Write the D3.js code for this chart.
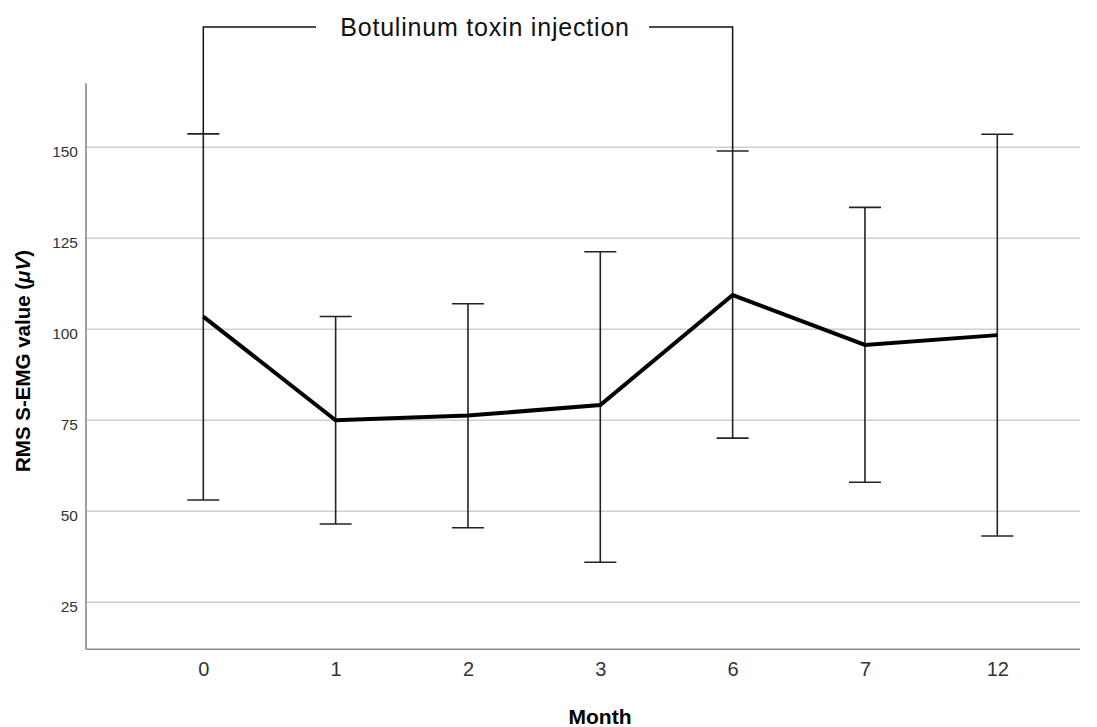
<!DOCTYPE html>
<html>
<head>
<meta charset="utf-8">
<script src="https://cdn.jsdelivr.net/npm/d3@7"></script>
<style>
  body { margin: 0; background: #fff; }
  svg { font-family: "Liberation Sans", Arial, sans-serif; }
</style>
</head>
<body>
<svg width="1097" height="727"></svg>
<script>
// month categories and values
var months = ["0", "1", "2", "3", "6", "7", "12"];
var meanValues = [103.5, 75.0, 76.3, 79.2, 109.4, 95.7, 98.4];
var upperValues = [153.7, 103.5, 107.0, 121.3, 149.0, 133.5, 153.6];
var lowerValues = [53.1, 46.5, 45.5, 36.0, 70.1, 58.0, 43.2];
var yTicks = [25, 50, 75, 100, 125, 150];
var injectionMonths = ["0", "6"];

var svg = d3.select("svg");

var x = d3.scalePoint()
  .domain(months)
  .range([203.3, 997.3]);

var y = d3.scaleLinear()
  .domain([0, 150])
  .range([693.3, 147.3]);

var axisLeft = 86, axisRight = 1080;
var yMin = 12.1, yMax = 167.6;

// gridlines
svg.append("g")
  .selectAll("line")
  .data(yTicks)
  .enter()
  .append("line")
  .attr("x1", axisLeft)
  .attr("x2", axisRight)
  .attr("y1", function(d) { return y(d); })
  .attr("y2", function(d) { return y(d); })
  .attr("stroke", "#cfcfcf")
  .attr("stroke-width", 1.6);

// y axis
var yAxis = svg.append("g")
  .attr("transform", "translate(" + axisLeft + ",0)")
  .call(d3.axisLeft(y).tickValues(yTicks).tickSize(0).tickPadding(8));
yAxis.select(".domain").remove();
yAxis.selectAll("text")
  .attr("font-size", 15.5)
  .attr("dy", "0.6em")
  .attr("fill", "#333")
  .attr("font-family", "Liberation Sans, Arial, sans-serif");

svg.append("line")
  .attr("x1", axisLeft).attr("x2", axisLeft)
  .attr("y1", y(yMin)).attr("y2", y(yMax))
  .attr("stroke", "#888").attr("stroke-width", 1.6);

// x axis
var xAxis = svg.append("g")
  .attr("transform", "translate(0," + y(yMin) + ")")
  .call(d3.axisBottom(x).tickSize(0).tickPadding(13));
xAxis.select(".domain").remove();
xAxis.selectAll("text")
  .attr("font-size", 20)
  .attr("fill", "#333")
  .attr("font-family", "Liberation Sans, Arial, sans-serif");

svg.append("line")
  .attr("x1", axisLeft).attr("x2", axisRight)
  .attr("y1", y(yMin)).attr("y2", y(yMin))
  .attr("stroke", "#888").attr("stroke-width", 1.6);

// axis titles
svg.append("text")
  .attr("x", 600)
  .attr("y", 724)
  .attr("text-anchor", "middle")
  .attr("font-size", 21)
  .attr("font-weight", "bold")
  .text("Month");

var yTitle = svg.append("text")
  .attr("transform", "translate(30,361) rotate(-90)")
  .attr("text-anchor", "middle")
  .attr("font-size", 20.5)
  .attr("font-weight", "bold");
yTitle.append("tspan").text("RMS S-EMG value (");
yTitle.append("tspan").attr("font-style", "italic").text("\u03bcV");
yTitle.append("tspan").text(")");

// error bars
var bars = svg.append("g");
var capHalf = 16;
months.forEach(function(m, i) {
  var cx = x(m);
  bars.append("line")
    .attr("x1", cx).attr("x2", cx)
    .attr("y1", y(upperValues[i])).attr("y2", y(lowerValues[i]))
    .attr("stroke", "#222").attr("stroke-width", 1.6);
  [upperValues[i], lowerValues[i]].forEach(function(v) {
    bars.append("line")
      .attr("x1", cx - capHalf).attr("x2", cx + capHalf)
      .attr("y1", y(v)).attr("y2", y(v))
      .attr("stroke", "#222").attr("stroke-width", 1.6);
  });
});

// mean line
var line = d3.line()
  .x(function(d, i) { return x(months[i]); })
  .y(function(d) { return y(d); });

svg.append("path")
  .datum(meanValues)
  .attr("d", line)
  .attr("fill", "none")
  .attr("stroke", "#000")
  .attr("stroke-width", 4)
  .attr("stroke-linejoin", "miter");

// injection bracket
var bracketY = 27;
var x0 = x(injectionMonths[0]), x1 = x(injectionMonths[1]);
var top0 = y(upperValues[months.indexOf(injectionMonths[0])]);
var top1 = y(upperValues[months.indexOf(injectionMonths[1])]);

svg.append("path")
  .attr("d", "M" + x0 + "," + top0 + "V" + bracketY + "H316")
  .attr("fill", "none").attr("stroke", "#111").attr("stroke-width", 1.5);
svg.append("path")
  .attr("d", "M649," + bracketY + "H" + x1 + "V" + top1)
  .attr("fill", "none").attr("stroke", "#111").attr("stroke-width", 1.5);

svg.append("text")
  .attr("x", 485)
  .attr("y", 36)
  .attr("text-anchor", "middle")
  .attr("font-size", 25)
  .attr("letter-spacing", 0.8)
  .attr("fill", "#111")
  .text("Botulinum toxin injection");
</script>
</body>
</html>
